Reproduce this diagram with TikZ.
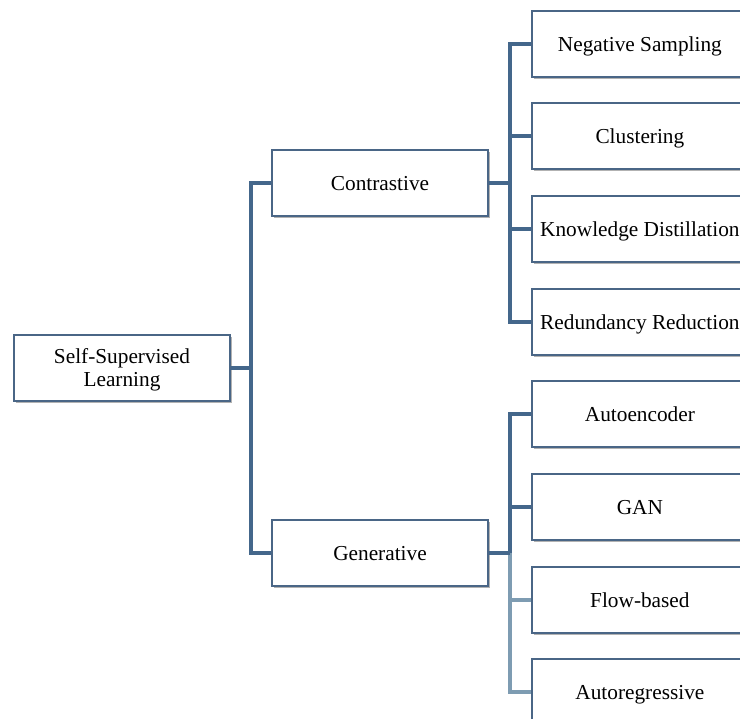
\documentclass[tikz,border=0pt]{standalone}
\usepackage{fontspec}
\setmainfont{Liberation Serif}
\usetikzlibrary{shadows}
\definecolor{boxline}{HTML}{4A6686}
\definecolor{linkdark}{HTML}{44678B}
\definecolor{linklight}{HTML}{7E9CB2}
\tikzset{
  catbox/.style={draw=boxline, line width=1.8pt, fill=white,
    minimum width=216pt, minimum height=66pt, inner sep=0pt,
    text depth=0pt,
    font=\fontsize{21.3}{23}\selectfont, align=center,
    drop shadow={shadow xshift=1.8pt, shadow yshift=-2.2pt, fill=black!55, opacity=0.55}},
  leafbox/.style={catbox, minimum width=230pt, anchor=west},
  link/.style={draw=linkdark, line width=3.1pt},
  linksoft/.style={draw=linklight, line width=3.1pt},
}
\begin{document}
\begin{tikzpicture}[x=1pt, y=-1pt]
\useasboundingbox (0,0) rectangle (740,719);
\clip (0,0) rectangle (740,719);
\fill[white] (0,0) rectangle (740,719);

% junction points of the tree
\coordinate (ja) at (251,368);
\coordinate (jc) at (510,183);
\coordinate (jg) at (510,553);

% root and categories
\node[catbox] (root) at (122,368) {Self-Supervised\\Learning};
\node[catbox] (con) at (380,183) {Contrastive};
\node[catbox] (gen) at (380,553) {Generative};

% leaves
\node[leafbox] (neg) at (531,44) {\hspace*{-14pt}Negative Sampling};
\node[leafbox] (clu) at (531,136) {\hspace*{-14pt}Clustering};
\node[leafbox] (kd)  at (531,229) {\hspace*{-14pt}Knowledge Distillation};
\node[leafbox] (red) at (531,322) {\hspace*{-14pt}Redundancy Reduction};
\node[leafbox] (ae)  at (531,414) {\hspace*{-14pt}Autoencoder};
\node[leafbox] (gan) at (531,507) {\hspace*{-14pt}GAN};
\node[leafbox] (flo) at (531,600) {\hspace*{-14pt}Flow-based};
\node[leafbox] (ar)  at (531,692) {\hspace*{-14pt}Autoregressive};

% tree links
\draw[link] (root.east) -- (ja);
\draw[link] (con.west) -| (ja) |- (gen.west);
\draw[link] (con.east) -- (jc);
\draw[link] (neg.west) -| (jc) |- (red.west);
\draw[link] (clu.west) -- (clu.west -| jc);
\draw[link] (kd.west) -- (kd.west -| jc);
\draw[linksoft] (jg) |- (ar.west);
\draw[linksoft] (flo.west) -- (flo.west -| jg);
\draw[link] (gen.east) -- (jg);
\draw[link] (ae.west) -| (jg);
\draw[link] (gan.west) -- (gan.west -| jg);
\end{tikzpicture}
\end{document}
